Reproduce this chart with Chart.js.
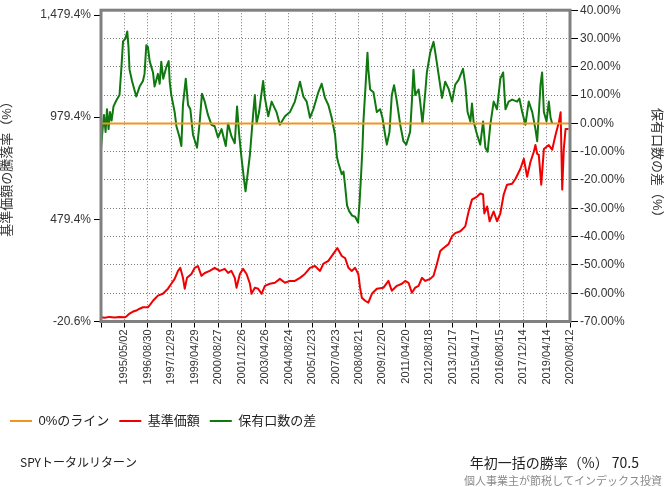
<!DOCTYPE html>
<html lang="ja">
<head>
<meta charset="UTF-8">
<title>SPYトータルリターン</title>
<script src="https://cdn.jsdelivr.net/npm/chart.js@4.4.1/dist/chart.umd.min.js"></script>
<style>
  html, body { margin: 0; padding: 0; background: #fff; }
</style>
</head>
<body>
<canvas id="chart" width="664" height="487"></canvas>
<script>
// series names / texts
const seriesNames = ['0%のライン', '基準価額', '保有口数の差'];
const leftTitle = '基準価額の騰落率（%）';
const rightTitle = '保有口数の差（%）';
const noteLeft = 'SPYトータルリターン';
const winRateLabel = '年初一括の勝率（%）';
const winRate = '70.5';
const credit = '個人事業主が節税してインデックス投資';

// x axis: ticks every 486 days from 1994/01/01
const tickStepDays = 486;
const tickSteps = 20;
const leftTicks = [-20.6, 479.4, 979.4, 1479.4];
const leftMax = 1503;
const rightMin = -70;
const rightMax = 40;

// 0% line
const zeroLine = [0, 0];

// 基準価額 (decimal year, %)
const redYears = [1994.00,1994.20,1994.48,1994.77,1995.05,1995.34,1995.45,1995.62,1995.79,1996.00,
  1996.19,1996.38,1996.66,1996.79,1996.95,1997.23,1997.51,1997.80,1997.99,1998.18,
  1998.37,1998.50,1998.65,1998.75,1998.88,1999.13,1999.32,1999.50,1999.70,1999.89,
  2000.17,2000.45,2000.74,2001.02,2001.21,2001.40,2001.59,2001.69,2001.88,2002.06,
  2002.26,2002.45,2002.54,2002.73,2002.92,2003.11,2003.30,2003.58,2003.87,2004.15,
  2004.44,2004.72,2005.00,2005.29,2005.57,2005.86,2006.14,2006.43,2006.61,2006.90,
  2007.18,2007.41,2007.66,2007.85,2008.04,2008.23,2008.42,2008.60,2008.70,2008.80,
  2008.99,2009.17,2009.37,2009.65,2010.03,2010.31,2010.50,2010.79,2011.07,2011.26,
  2011.45,2011.64,2011.83,2012.02,2012.21,2012.40,2012.68,2012.87,2013.06,2013.25,
  2013.44,2013.72,2013.92,2014.10,2014.39,2014.67,2014.86,2015.05,2015.34,2015.52,
  2015.68,2015.75,2015.91,2016.05,2016.28,2016.47,2016.66,2016.85,2017.04,2017.33,
  2017.52,2017.80,2017.99,2018.18,2018.37,2018.56,2018.65,2018.75,2018.84,2018.98,
  2019.13,2019.41,2019.60,2019.79,2019.98,2020.08,2020.17,2020.26,2020.36,2020.53];
const redValues = [0,-2,2,-1,1,0,5,18,27,33,
  42,49,49,62,81,106,115,140,164,188,
  227,242,193,140,193,212,242,251,203,217,
  227,242,227,237,217,227,193,145,212,237,
  212,164,115,145,140,115,154,164,169,188,
  169,178,178,193,212,242,251,227,261,276,
  310,339,300,290,242,227,242,212,145,96,
  81,72,115,140,145,178,130,154,164,178,
  169,120,145,154,193,178,188,203,261,324,
  339,358,397,412,421,445,518,576,591,606,
  601,508,542,470,518,470,508,601,649,654,
  678,727,776,688,761,810,843,800,795,649,
  824,843,820,892,955,1004,625,824,921,921];

// 保有口数の差 (decimal year, %)
const greenYears = [1994.00,1994.09,1994.17,1994.26,1994.34,1994.43,1994.51,1994.60,1994.71,1994.86,
  1995.05,1995.15,1995.25,1995.39,1995.49,1995.56,1995.62,1995.76,1996.00,1996.19,
  1996.38,1996.47,1996.57,1996.66,1996.76,1996.95,1997.04,1997.23,1997.33,1997.42,
  1997.53,1997.71,1997.84,1997.90,1997.99,1998.18,1998.28,1998.46,1998.56,1998.65,
  1998.81,1998.94,1999.07,1999.22,1999.45,1999.60,1999.73,1999.89,2000.07,2000.27,
  2000.45,2000.64,2000.84,2001.08,2001.21,2001.40,2001.59,2001.72,2001.84,2001.97,
  2002.08,2002.20,2002.30,2002.45,2002.63,2002.73,2002.83,2002.97,2003.20,2003.30,
  2003.49,2003.68,2003.96,2004.15,2004.44,2004.72,2005.00,2005.29,2005.48,2005.67,
  2005.86,2006.05,2006.33,2006.52,2006.71,2006.90,2007.09,2007.28,2007.39,2007.47,
  2007.66,2007.76,2007.85,2007.96,2008.08,2008.25,2008.42,2008.59,2008.67,2008.76,
  2008.84,2008.89,2008.99,2009.12,2009.17,2009.27,2009.46,2009.65,2009.84,2009.97,
  2010.12,2010.22,2010.37,2010.50,2010.63,2010.79,2010.98,2011.16,2011.32,2011.54,
  2011.64,2011.73,2011.83,2012.02,2012.11,2012.24,2012.40,2012.49,2012.68,2012.87,
  2012.97,2013.15,2013.35,2013.53,2013.72,2013.92,2014.10,2014.29,2014.54,2014.67,
  2014.80,2014.96,2015.05,2015.14,2015.34,2015.52,2015.68,2015.81,2015.94,2016.09,
  2016.28,2016.47,2016.66,2016.82,2016.95,2017.13,2017.33,2017.61,2017.74,2017.90,
  2018.08,2018.27,2018.47,2018.65,2018.75,2018.94,2019.03,2019.13,2019.28,2019.41,
  2019.51,2019.60];
const greenValues = [-9,-2,3,-3,5,-2,4,1,6,8,
  10,19,29,30,32.5,27,19,15,9.5,13,
  15,17.5,27.6,27,22,18,13,17.5,14,21.8,
  15.8,20,22,14.7,10,4,-1,-5,-8,6.5,
  15.8,6.5,5,-4,-8.6,0.5,10.5,7.6,3,-0.5,
  -1,-5,-2,-8,0,-4.5,-7,6,-4,-12,
  -18,-24,-19,-11,3,10,0,4,15,9,
  2.5,7.7,4,-0.5,2.5,4,7.7,14.7,9.5,7.7,
  2,5,11,14,9,6.5,2,-4,-12,-14,
  -18,-17,-22,-29,-31,-32.6,-33,-35,-28,-18,
  -8,0.7,11,25,19,12,11,4,5,2,
  -4,-7.5,-3,10,13.5,7.7,-0.5,-6.3,-7.5,-3,
  7.7,19,10,12,7.7,0,11,18,25,28.8,
  25,17.5,9,14.7,12.3,7.7,13.7,15.4,19.3,13.7,
  4,0.7,7,0.7,-4,-7.5,0.7,-8.6,-10,-0.5,
  7.7,5,15.8,18,5,7.7,8.4,7.7,8.8,4,
  -0.5,7.7,4,-2,-6.3,13.7,18,4,0.7,7.7,
  2,0];

const startUtc = Date.UTC(1994, 0, 1);
const yearDays = 365.25;
const xMin = 1994;
const xMax = xMin + tickSteps * tickStepDays / yearDays;

function tickDate(k) {
  const d = new Date(startUtc + k * tickStepDays * 86400000);
  return d.getUTCFullYear() + '/' + String(d.getUTCMonth() + 1).padStart(2, '0') + '/' + String(d.getUTCDate()).padStart(2, '0');
}

const toPoints = (xs, ys) => xs.map((x, i) => ({ x: x, y: ys[i] }));

Chart.defaults.font.family = '"Liberation Sans", "Noto Sans CJK JP", sans-serif';
Chart.defaults.color = '#333';

const gridColor = '#7a7a7a';

const framePlugin = {
  id: 'frame',
  afterDatasetsDraw(chart) {
    const { ctx, chartArea: a } = chart;
    ctx.save();
    ctx.strokeStyle = '#808080';
    ctx.lineWidth = 3;
    ctx.strokeRect(a.left, a.top, a.right - a.left, a.bottom - a.top);
    ctx.restore();
  }
};

const notesPlugin = {
  id: 'notes',
  afterDraw(chart) {
    const ctx = chart.ctx;
    ctx.save();
    ctx.textBaseline = 'middle';
    ctx.fillStyle = '#222';
    ctx.font = '12px "Noto Sans CJK JP", sans-serif';
    ctx.fillText(noteLeft, 20, 462);
    ctx.font = '14px "Noto Sans CJK JP", sans-serif';
    ctx.textAlign = 'right';
    ctx.fillText(winRateLabel + ' ' + winRate, 639, 463);
    ctx.font = '11px "Noto Sans CJK JP", sans-serif';
    ctx.fillStyle = '#8a8a8a';
    ctx.fillText(credit, 662, 481);
    ctx.restore();
  }
};

new Chart(document.getElementById('chart'), {
  type: 'line',
  data: {
    datasets: [
      {
        label: seriesNames[0],
        data: toPoints([xMin, xMax], zeroLine),
        yAxisID: 'y1',
        borderColor: '#f0961e',
        backgroundColor: '#f0961e',
        borderWidth: 2
      },
      {
        label: seriesNames[1],
        data: toPoints(redYears, redValues),
        yAxisID: 'y',
        borderColor: '#f00000',
        backgroundColor: '#f00000',
        borderWidth: 2
      },
      {
        label: seriesNames[2],
        data: toPoints(greenYears, greenValues),
        yAxisID: 'y1',
        borderColor: '#0f780f',
        backgroundColor: '#0f780f',
        borderWidth: 2
      }
    ]
  },
  options: {
    responsive: false,
    animation: false,
    layout: { padding: { top: 8, bottom: 49.5, left: 0, right: 0 } },
    elements: { point: { radius: 0 }, line: { tension: 0, borderJoinStyle: 'round' } },
    plugins: {
      tooltip: { enabled: false },
      legend: {
        position: 'bottom',
        align: 'start',
        labels: {
          usePointStyle: true,
          pointStyle: 'line',
          pointStyleWidth: 22,
          padding: 10,
          color: '#222',
          font: { size: 13 }
        }
      }
    },
    scales: {
      x: {
        type: 'linear',
        min: xMin,
        max: xMax,
        afterBuildTicks: scale => {
          const t = [];
          for (let k = 0; k <= tickSteps; k++) t.push({ value: xMin + k * tickStepDays / yearDays });
          scale.ticks = t;
        },
        afterFit: scale => { scale.height = 83; },
        ticks: {
          autoSkip: false,
          minRotation: 90,
          maxRotation: 90,
          padding: 2,
          font: { size: 11 },
          callback: (v, i) => i === 0 ? '' : tickDate(i)
        },
        grid: { color: gridColor, tickColor: '#000', tickLength: 6, tickBorderDash: [] },
        border: { display: false, dash: [1, 2] }
      },
      y: {
        position: 'left',
        min: leftTicks[0],
        max: leftMax,
        afterBuildTicks: scale => { scale.ticks = leftTicks.map(v => ({ value: v })); },
        afterFit: scale => { scale.width = 101; },
        ticks: {
          padding: 3,
          font: { size: 12 },
          callback: v => v.toLocaleString('en-US', { minimumFractionDigits: 1, maximumFractionDigits: 1 }) + '%'
        },
        grid: { drawOnChartArea: false, tickColor: '#000', tickLength: 7 },
        border: { display: false },
        title: { display: true, text: leftTitle, padding: 0, font: { size: 13 } }
      },
      y1: {
        position: 'right',
        min: rightMin,
        max: rightMax,
        afterFit: scale => { scale.width = 94; },
        ticks: {
          stepSize: 10,
          padding: 2,
          font: { size: 12 },
          callback: v => v.toFixed(2) + '%'
        },
        grid: { color: gridColor, tickColor: '#000', tickLength: 8, tickBorderDash: [] },
        border: { display: false, dash: [1, 2] },
        title: { display: true, text: rightTitle, padding: 0, font: { size: 13 } }
      }
    }
  },
  plugins: [framePlugin, notesPlugin]
});
</script>
</body>
</html>
